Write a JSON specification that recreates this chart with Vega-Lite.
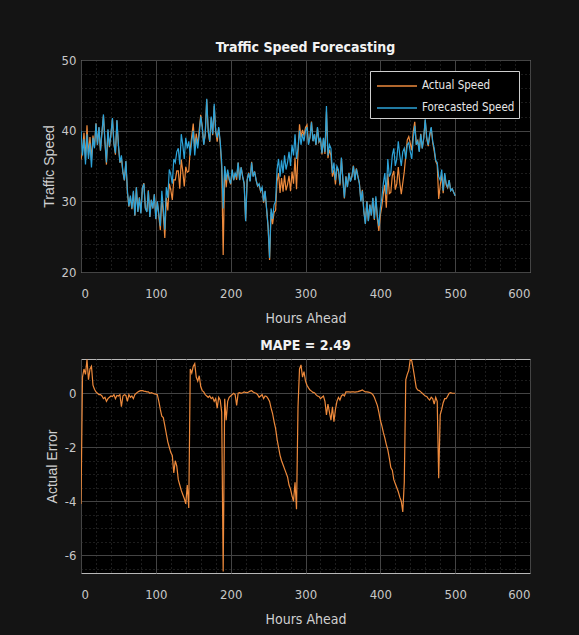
{
  "$schema": "https://vega.github.io/schema/vega-lite/v6.json",
  "background": "#141414",
  "padding": {"left": 41, "top": 40, "right": 48, "bottom": 10},
  "config": {
    "view": {"stroke": "#b8b8b8", "strokeWidth": 1, "fill": "#000000"},
    "font": "DejaVu Sans Condensed, Liberation Sans",
    "axis": {"domain": false, "ticks": false, "labelColor": "#c8c8c8", "labelFontSize": 13, "labelFont": "DejaVu Sans Condensed, Liberation Sans", "titleColor": "#d0d0d0", "titleFontWeight": "normal", "titleFontSize": 14, "titleFont": "DejaVu Sans Condensed, Liberation Sans", "gridColor": "#444444", "gridWidth": 1},
    "title": {"color": "#f2f2f2", "fontSize": 14, "fontWeight": "bold", "font": "DejaVu Sans Condensed, Liberation Sans"},
    "concat": {"spacing": 12}
  },
  "data": {"values": [
    {"hour":0,"actual":35.9,"forecast":40.0,"error":-4.1},
    {"hour":2,"actual":37.1,"forecast":36.5,"error":0.6},
    {"hour":4,"actual":39.7,"forecast":38.8,"error":0.9},
    {"hour":6,"actual":35.9,"forecast":35.2,"error":0.7},
    {"hour":8,"actual":40.75,"forecast":39.5,"error":1.25},
    {"hour":10,"actual":36.5,"forecast":36.0,"error":0.5},
    {"hour":12,"actual":39.1,"forecast":38.2,"error":0.9},
    {"hour":14,"actual":35.8,"forecast":34.8,"error":1.0},
    {"hour":16,"actual":39.3,"forecast":39.0,"error":0.3},
    {"hour":18,"actual":37.65,"forecast":37.5,"error":0.15},
    {"hour":20,"actual":41.05,"forecast":41.0,"error":0.05},
    {"hour":22,"actual":38.0,"forecast":38.0,"error":0.0},
    {"hour":24,"actual":40.45,"forecast":40.5,"error":-0.05},
    {"hour":26,"actual":37.15,"forecast":37.2,"error":-0.05},
    {"hour":28,"actual":39.7,"forecast":39.8,"error":-0.1},
    {"hour":30,"actual":42.1,"forecast":42.3,"error":-0.2},
    {"hour":32,"actual":38.35,"forecast":38.5,"error":-0.15},
    {"hour":34,"actual":35.2,"forecast":35.5,"error":-0.3},
    {"hour":36,"actual":40.0,"forecast":40.2,"error":-0.2},
    {"hour":38,"actual":37.65,"forecast":37.8,"error":-0.15},
    {"hour":40,"actual":39.4,"forecast":39.5,"error":-0.1},
    {"hour":42,"actual":41.68,"forecast":41.8,"error":-0.12},
    {"hour":44,"actual":38.15,"forecast":38.2,"error":-0.05},
    {"hour":46,"actual":36.6,"forecast":36.8,"error":-0.2},
    {"hour":48,"actual":41.42,"forecast":41.5,"error":-0.08},
    {"hour":50,"actual":37.9,"forecast":38.0,"error":-0.1},
    {"hour":52,"actual":35.45,"forecast":35.5,"error":-0.05},
    {"hour":54,"actual":36.0,"forecast":36.5,"error":-0.5},
    {"hour":56,"actual":34.1,"forecast":34.2,"error":-0.1},
    {"hour":58,"actual":32.95,"forecast":33.0,"error":-0.05},
    {"hour":60,"actual":35.62,"forecast":35.7,"error":-0.08},
    {"hour":62,"actual":31.2,"forecast":31.5,"error":-0.3},
    {"hour":64,"actual":29.25,"forecast":29.3,"error":-0.05},
    {"hour":66,"actual":30.65,"forecast":30.8,"error":-0.15},
    {"hour":68,"actual":28.9,"forecast":29.0,"error":-0.1},
    {"hour":70,"actual":31.3,"forecast":31.5,"error":-0.2},
    {"hour":72,"actual":27.95,"forecast":28.0,"error":-0.05},
    {"hour":74,"actual":32.0,"forecast":32.0,"error":0.0},
    {"hour":76,"actual":28.55,"forecast":28.5,"error":0.05},
    {"hour":78,"actual":30.58,"forecast":30.5,"error":0.08},
    {"hour":80,"actual":28.4,"forecast":28.3,"error":0.1},
    {"hour":82,"actual":31.9,"forecast":31.8,"error":0.1},
    {"hour":84,"actual":32.58,"forecast":32.5,"error":0.08},
    {"hour":86,"actual":29.07,"forecast":29.0,"error":0.07},
    {"hour":88,"actual":28.55,"forecast":28.5,"error":0.05},
    {"hour":90,"actual":31.55,"forecast":31.5,"error":0.05},
    {"hour":92,"actual":27.8,"forecast":27.8,"error":0.0},
    {"hour":94,"actual":30.22,"forecast":30.2,"error":0.02},
    {"hour":96,"actual":29.0,"forecast":29.0,"error":0.0},
    {"hour":98,"actual":30.98,"forecast":31.0,"error":-0.02},
    {"hour":100,"actual":27.47,"forecast":27.5,"error":-0.03},
    {"hour":102,"actual":29.95,"forecast":30.0,"error":-0.05},
    {"hour":104,"actual":27.9,"forecast":28.2,"error":-0.3},
    {"hour":106,"actual":25.9,"forecast":26.5,"error":-0.6},
    {"hour":108,"actual":30.65,"forecast":31.5,"error":-0.85},
    {"hour":110,"actual":28.1,"forecast":29.0,"error":-0.9},
    {"hour":112,"actual":24.8,"forecast":26.0,"error":-1.2},
    {"hour":114,"actual":30.5,"forecast":32.0,"error":-1.5},
    {"hour":116,"actual":28.7,"forecast":30.5,"error":-1.8},
    {"hour":118,"actual":32.5,"forecast":34.5,"error":-2.0},
    {"hour":120,"actual":31.6,"forecast":33.8,"error":-2.2},
    {"hour":122,"actual":30.2,"forecast":32.5,"error":-2.3},
    {"hour":124,"actual":33.05,"forecast":36.0,"error":-2.95},
    {"hour":126,"actual":33.0,"forecast":35.5,"error":-2.5},
    {"hour":128,"actual":34.3,"forecast":37.0,"error":-2.7},
    {"hour":130,"actual":34.3,"forecast":37.5,"error":-3.2},
    {"hour":132,"actual":31.8,"forecast":35.2,"error":-3.4},
    {"hour":134,"actual":35.9,"forecast":39.5,"error":-3.6},
    {"hour":136,"actual":34.25,"forecast":38.0,"error":-3.75},
    {"hour":138,"actual":32.1,"forecast":36.0,"error":-3.9},
    {"hour":140,"actual":34.9,"forecast":39.0,"error":-4.1},
    {"hour":142,"actual":34.1,"forecast":37.5,"error":-3.4},
    {"hour":144,"actual":34.25,"forecast":38.5,"error":-4.25},
    {"hour":146,"actual":37.4,"forecast":36.5,"error":0.9},
    {"hour":148,"actual":39.25,"forecast":38.5,"error":0.75},
    {"hour":150,"actual":41.0,"forecast":40.0,"error":1.0},
    {"hour":152,"actual":37.6,"forecast":36.5,"error":1.1},
    {"hour":154,"actual":39.6,"forecast":39.0,"error":0.6},
    {"hour":156,"actual":37.95,"forecast":37.5,"error":0.45},
    {"hour":158,"actual":40.15,"forecast":39.5,"error":0.65},
    {"hour":160,"actual":42.25,"forecast":42.0,"error":0.25},
    {"hour":162,"actual":40.6,"forecast":40.5,"error":0.1},
    {"hour":164,"actual":38.05,"forecast":38.0,"error":0.05},
    {"hour":166,"actual":39.45,"forecast":39.5,"error":-0.05},
    {"hour":168,"actual":44.4,"forecast":44.5,"error":-0.1},
    {"hour":170,"actual":39.85,"forecast":40.0,"error":-0.15},
    {"hour":172,"actual":38.4,"forecast":38.5,"error":-0.1},
    {"hour":174,"actual":41.8,"forecast":42.0,"error":-0.2},
    {"hour":176,"actual":39.35,"forecast":39.5,"error":-0.15},
    {"hour":178,"actual":43.5,"forecast":43.8,"error":-0.3},
    {"hour":180,"actual":39.8,"forecast":40.0,"error":-0.2},
    {"hour":182,"actual":38.45,"forecast":39.0,"error":-0.55},
    {"hour":184,"actual":40.35,"forecast":40.5,"error":-0.15},
    {"hour":186,"actual":38.25,"forecast":38.5,"error":-0.25},
    {"hour":188,"actual":34.8,"forecast":35.5,"error":-0.7},
    {"hour":190,"actual":22.4,"forecast":29.0,"error":-6.6},
    {"hour":192,"actual":34.8,"forecast":35.0,"error":-0.2},
    {"hour":194,"actual":32.0,"forecast":33.0,"error":-1.0},
    {"hour":196,"actual":34.2,"forecast":34.5,"error":-0.3},
    {"hour":198,"actual":33.05,"forecast":33.2,"error":-0.15},
    {"hour":200,"actual":32.4,"forecast":32.5,"error":-0.1},
    {"hour":202,"actual":34.45,"forecast":34.5,"error":-0.05},
    {"hour":204,"actual":33.0,"forecast":33.0,"error":0.0},
    {"hour":206,"actual":33.95,"forecast":34.0,"error":-0.05},
    {"hour":208,"actual":33.05,"forecast":33.5,"error":-0.45},
    {"hour":210,"actual":35.5,"forecast":35.5,"error":0.0},
    {"hour":212,"actual":33.02,"forecast":33.0,"error":0.02},
    {"hour":214,"actual":34.8,"forecast":34.8,"error":0.0},
    {"hour":216,"actual":33.52,"forecast":33.5,"error":0.02},
    {"hour":218,"actual":32.55,"forecast":32.5,"error":0.05},
    {"hour":220,"actual":27.23,"forecast":27.2,"error":0.03},
    {"hour":222,"actual":33.02,"forecast":33.0,"error":0.02},
    {"hour":224,"actual":34.05,"forecast":34.0,"error":0.05},
    {"hour":226,"actual":32.88,"forecast":32.8,"error":0.08},
    {"hour":228,"actual":35.6,"forecast":35.5,"error":0.1},
    {"hour":230,"actual":33.55,"forecast":33.5,"error":0.05},
    {"hour":232,"actual":34.22,"forecast":34.2,"error":0.02},
    {"hour":234,"actual":33.0,"forecast":33.0,"error":0.0},
    {"hour":236,"actual":32.15,"forecast":32.2,"error":-0.05},
    {"hour":238,"actual":32.35,"forecast":32.5,"error":-0.15},
    {"hour":240,"actual":31.4,"forecast":31.5,"error":-0.1},
    {"hour":242,"actual":31.95,"forecast":32.0,"error":-0.05},
    {"hour":244,"actual":29.8,"forecast":30.0,"error":-0.2},
    {"hour":246,"actual":31.4,"forecast":31.5,"error":-0.1},
    {"hour":248,"actual":28.88,"forecast":29.0,"error":-0.12},
    {"hour":250,"actual":26.3,"forecast":26.5,"error":-0.2},
    {"hour":252,"actual":21.7,"forecast":22.0,"error":-0.3},
    {"hour":254,"actual":28.45,"forecast":29.0,"error":-0.55},
    {"hour":256,"actual":26.75,"forecast":27.5,"error":-0.75},
    {"hour":258,"actual":28.45,"forecast":29.5,"error":-1.05},
    {"hour":260,"actual":28.7,"forecast":30.0,"error":-1.3},
    {"hour":262,"actual":32.8,"forecast":34.5,"error":-1.7},
    {"hour":264,"actual":34.0,"forecast":36.0,"error":-2.0},
    {"hour":266,"actual":31.2,"forecast":33.5,"error":-2.3},
    {"hour":268,"actual":33.3,"forecast":35.8,"error":-2.5},
    {"hour":270,"actual":31.35,"forecast":34.0,"error":-2.65},
    {"hour":272,"actual":33.7,"forecast":36.5,"error":-2.8},
    {"hour":274,"actual":31.55,"forecast":34.5,"error":-2.95},
    {"hour":276,"actual":32.4,"forecast":35.5,"error":-3.1},
    {"hour":278,"actual":33.6,"forecast":37.0,"error":-3.4},
    {"hour":280,"actual":31.45,"forecast":35.0,"error":-3.55},
    {"hour":282,"actual":34.2,"forecast":38.0,"error":-3.8},
    {"hour":284,"actual":32.5,"forecast":36.5,"error":-4.0},
    {"hour":286,"actual":36.2,"forecast":39.5,"error":-3.3},
    {"hour":288,"actual":31.7,"forecast":36.0,"error":-4.3},
    {"hour":290,"actual":37.0,"forecast":37.5,"error":-0.5},
    {"hour":292,"actual":40.9,"forecast":40.0,"error":0.9},
    {"hour":294,"actual":39.05,"forecast":38.0,"error":1.05},
    {"hour":296,"actual":40.1,"forecast":39.5,"error":0.6},
    {"hour":298,"actual":39.3,"forecast":38.5,"error":0.8},
    {"hour":300,"actual":40.45,"forecast":40.0,"error":0.45},
    {"hour":302,"actual":40.8,"forecast":40.5,"error":0.3},
    {"hour":304,"actual":38.2,"forecast":38.0,"error":0.2},
    {"hour":306,"actual":39.12,"forecast":39.0,"error":0.12},
    {"hour":308,"actual":41.28,"forecast":41.2,"error":0.08},
    {"hour":310,"actual":38.53,"forecast":38.5,"error":0.03},
    {"hour":312,"actual":39.52,"forecast":39.5,"error":0.02},
    {"hour":314,"actual":37.95,"forecast":38.0,"error":-0.05},
    {"hour":316,"actual":40.4,"forecast":40.5,"error":-0.1},
    {"hour":318,"actual":38.38,"forecast":38.5,"error":-0.12},
    {"hour":320,"actual":38.8,"forecast":39.0,"error":-0.2},
    {"hour":322,"actual":36.65,"forecast":36.8,"error":-0.15},
    {"hour":324,"actual":38.9,"forecast":39.0,"error":-0.1},
    {"hour":326,"actual":36.7,"forecast":37.0,"error":-0.3},
    {"hour":328,"actual":42.7,"forecast":43.5,"error":-0.8},
    {"hour":330,"actual":36.1,"forecast":36.5,"error":-0.4},
    {"hour":332,"actual":37.3,"forecast":38.0,"error":-0.7},
    {"hour":334,"actual":36.5,"forecast":37.5,"error":-1.0},
    {"hour":336,"actual":33.5,"forecast":34.0,"error":-0.5},
    {"hour":338,"actual":34.45,"forecast":35.5,"error":-1.05},
    {"hour":340,"actual":32.4,"forecast":33.0,"error":-0.6},
    {"hour":342,"actual":34.7,"forecast":35.0,"error":-0.3},
    {"hour":344,"actual":34.35,"forecast":34.5,"error":-0.15},
    {"hour":346,"actual":32.25,"forecast":32.5,"error":-0.25},
    {"hour":348,"actual":36.1,"forecast":36.2,"error":-0.1},
    {"hour":350,"actual":32.95,"forecast":33.0,"error":-0.05},
    {"hour":352,"actual":30.4,"forecast":30.5,"error":-0.1},
    {"hour":354,"actual":33.55,"forecast":33.5,"error":0.05},
    {"hour":356,"actual":32.05,"forecast":32.0,"error":0.05},
    {"hour":358,"actual":34.05,"forecast":34.0,"error":0.05},
    {"hour":360,"actual":32.84,"forecast":32.8,"error":0.04},
    {"hour":362,"actual":33.55,"forecast":33.5,"error":0.05},
    {"hour":364,"actual":35.05,"forecast":35.0,"error":0.05},
    {"hour":366,"actual":33.04,"forecast":33.0,"error":0.04},
    {"hour":368,"actual":34.65,"forecast":34.6,"error":0.05},
    {"hour":370,"actual":33.56,"forecast":33.5,"error":0.06},
    {"hour":372,"actual":32.58,"forecast":32.5,"error":0.08},
    {"hour":374,"actual":30.1,"forecast":30.0,"error":0.1},
    {"hour":376,"actual":31.62,"forecast":31.5,"error":0.12},
    {"hour":378,"actual":28.58,"forecast":28.5,"error":0.08},
    {"hour":380,"actual":26.85,"forecast":26.8,"error":0.05},
    {"hour":382,"actual":30.05,"forecast":30.0,"error":0.05},
    {"hour":384,"actual":27.24,"forecast":27.2,"error":0.04},
    {"hour":386,"actual":29.53,"forecast":29.5,"error":0.03},
    {"hour":388,"actual":28.0,"forecast":28.0,"error":0.0},
    {"hour":390,"actual":30.45,"forecast":30.5,"error":-0.05},
    {"hour":392,"actual":27.35,"forecast":27.5,"error":-0.15},
    {"hour":394,"actual":30.4,"forecast":30.7,"error":-0.3},
    {"hour":396,"actual":27.55,"forecast":28.0,"error":-0.45},
    {"hour":398,"actual":25.8,"forecast":26.5,"error":-0.7},
    {"hour":400,"actual":28.0,"forecast":29.0,"error":-1.0},
    {"hour":402,"actual":29.3,"forecast":30.5,"error":-1.2},
    {"hour":404,"actual":31.05,"forecast":32.5,"error":-1.45},
    {"hour":406,"actual":32.35,"forecast":34.0,"error":-1.65},
    {"hour":408,"actual":29.1,"forecast":31.0,"error":-1.9},
    {"hour":410,"actual":33.9,"forecast":36.0,"error":-2.1},
    {"hour":412,"actual":31.1,"forecast":33.5,"error":-2.4},
    {"hour":414,"actual":31.25,"forecast":34.0,"error":-2.75},
    {"hour":416,"actual":33.65,"forecast":36.5,"error":-2.85},
    {"hour":418,"actual":34.3,"forecast":37.5,"error":-3.2},
    {"hour":420,"actual":31.65,"forecast":35.0,"error":-3.35},
    {"hour":422,"actual":32.5,"forecast":36.0,"error":-3.5},
    {"hour":424,"actual":34.85,"forecast":38.5,"error":-3.65},
    {"hour":426,"actual":32.65,"forecast":36.5,"error":-3.85},
    {"hour":428,"actual":31.0,"forecast":35.0,"error":-4.0},
    {"hour":430,"actual":32.6,"forecast":37.0,"error":-4.4},
    {"hour":432,"actual":34.2,"forecast":37.5,"error":-3.3},
    {"hour":434,"actual":36.5,"forecast":36.0,"error":0.5},
    {"hour":436,"actual":38.7,"forecast":38.0,"error":0.7},
    {"hour":438,"actual":39.15,"forecast":38.3,"error":0.85},
    {"hour":440,"actual":38.25,"forecast":37.0,"error":1.25},
    {"hour":442,"actual":37.2,"forecast":36.0,"error":1.2},
    {"hour":444,"actual":39.9,"forecast":39.0,"error":0.9},
    {"hour":446,"actual":41.25,"forecast":40.7,"error":0.55},
    {"hour":448,"actual":38.2,"forecast":38.0,"error":0.2},
    {"hour":450,"actual":38.62,"forecast":38.5,"error":0.12},
    {"hour":452,"actual":37.1,"forecast":37.0,"error":0.1},
    {"hour":454,"actual":39.55,"forecast":39.5,"error":0.05},
    {"hour":456,"actual":37.5,"forecast":37.5,"error":0.0},
    {"hour":458,"actual":38.95,"forecast":39.0,"error":-0.05},
    {"hour":460,"actual":41.5,"forecast":41.6,"error":-0.1},
    {"hour":462,"actual":38.88,"forecast":39.0,"error":-0.12},
    {"hour":464,"actual":37.8,"forecast":38.0,"error":-0.2},
    {"hour":466,"actual":39.25,"forecast":39.5,"error":-0.25},
    {"hour":468,"actual":40.35,"forecast":40.5,"error":-0.15},
    {"hour":470,"actual":38.3,"forecast":38.5,"error":-0.2},
    {"hour":472,"actual":37.1,"forecast":37.5,"error":-0.4},
    {"hour":474,"actual":35.65,"forecast":35.8,"error":-0.15},
    {"hour":476,"actual":35.2,"forecast":35.5,"error":-0.3},
    {"hour":478,"actual":30.35,"forecast":33.5,"error":-3.15},
    {"hour":480,"actual":32.2,"forecast":33.0,"error":-0.8},
    {"hour":482,"actual":33.9,"forecast":34.5,"error":-0.6},
    {"hour":484,"actual":31.15,"forecast":31.5,"error":-0.35},
    {"hour":486,"actual":33.8,"forecast":34.0,"error":-0.2},
    {"hour":488,"actual":32.3,"forecast":32.5,"error":-0.2},
    {"hour":490,"actual":31.9,"forecast":32.0,"error":-0.1},
    {"hour":492,"actual":33.0,"forecast":33.0,"error":0.0},
    {"hour":494,"actual":31.52,"forecast":31.5,"error":0.02},
    {"hour":496,"actual":31.8,"forecast":31.8,"error":0.0},
    {"hour":498,"actual":31.3,"forecast":31.3,"error":0.0},
    {"hour":500,"actual":30.8,"forecast":30.8,"error":0.0}
  ]},
  "vconcat": [
    {
      "width": 449,
      "height": 212,
      "title": {"text": "Traffic Speed Forecasting", "offset": -1},
      "layer": [
        {
          "mark": {"type": "line", "opacity": 0},
          "encoding": {
            "x": {"field": "hour", "type": "quantitative", "scale": {"domain": [0, 600], "nice": false}, "axis": {"orient": "bottom", "values": [20,40,60,80,120,140,160,180,220,240,260,280,320,340,360,380,420,440,460,480,520,540,560,580], "grid": true, "gridDash": [1, 3], "gridColor": "#3a3a3a", "labels": false, "title": null}},
            "y": {"field": "actual", "type": "quantitative", "scale": {"domain": [20, 50], "nice": false, "zero": false}, "axis": {"orient": "left", "values": [22,24,26,28,32,34,36,38,42,44,46,48], "grid": true, "gridDash": [1, 3], "gridColor": "#3a3a3a", "labels": false, "title": null}}
          }
        },
        {
          "transform": [{"fold": ["actual", "forecast"], "as": ["series", "speed"]}],
          "mark": {"type": "line", "strokeWidth": 1.2, "clip": true},
          "encoding": {
            "x": {"field": "hour", "type": "quantitative", "scale": {"domain": [0, 600], "nice": false}, "axis": {"orient": "bottom", "values": [0,100,200,300,400,500,600], "grid": true, "title": "Hours Ahead", "labelPadding": 15, "titlePadding": 11}},
            "y": {"field": "speed", "type": "quantitative", "scale": {"domain": [20, 50], "nice": false, "zero": false}, "axis": {"orient": "left", "values": [20,30,40,50], "grid": true, "title": "Traffic Speed", "titleFont": "Liberation Sans", "titleFontSize": 14, "labelPadding": 5, "titlePadding": 5}},
            "color": {
              "field": "series", "type": "nominal",
              "scale": {"domain": ["actual", "forecast"], "range": ["#EE8A3C", "#2DA3D9"]},
              "legend": {"title": null, "orient": "top-right", "offset": 11, "fillColor": "#000000", "strokeColor": "#cfcfcf", "padding": 4, "symbolType": "M-2,0H2", "symbolSize": 400, "symbolStrokeWidth": 1.5, "symbolOffset": 12, "labelOffset": 14, "labelColor": "#e6e6e6", "labelFontSize": 11.5, "labelFont": "DejaVu Sans Condensed, Liberation Sans", "rowPadding": 5, "labelExpr": "datum.label == 'actual' ? 'Actual Speed' : 'Forecasted Speed'"}
            }
          }
        }
      ],
      "resolve": {"axis": {"x": "independent", "y": "independent"}}
    },
    {
      "width": 449,
      "height": 214,
      "title": {"text": "MAPE = 2.49", "offset": 6},
      "layer": [
        {
          "mark": {"type": "line", "opacity": 0},
          "encoding": {
            "x": {"field": "hour", "type": "quantitative", "scale": {"domain": [0, 600], "nice": false}, "axis": {"orient": "bottom", "values": [20,40,60,80,120,140,160,180,220,240,260,280,320,340,360,380,420,440,460,480,520,540,560,580], "grid": true, "gridDash": [1, 3], "gridColor": "#3a3a3a", "labels": false, "title": null}},
            "y": {"field": "error", "type": "quantitative", "scale": {"domain": [-6.66, 1.27], "nice": false, "zero": false}, "axis": {"orient": "left", "values": [1, 0.5, -0.5, -1, -1.5, -2.5, -3, -3.5, -4.5, -5, -5.5, -6.5], "grid": true, "gridDash": [1, 3], "gridColor": "#3a3a3a", "labels": false, "title": null}}
          }
        },
        {
          "mark": {"type": "line", "strokeWidth": 1.2, "color": "#EE8A3C", "clip": true},
          "encoding": {
            "x": {"field": "hour", "type": "quantitative", "scale": {"domain": [0, 600], "nice": false}, "axis": {"orient": "bottom", "values": [0,100,200,300,400,500,600], "grid": true, "title": "Hours Ahead", "labelPadding": 15, "titlePadding": 11}},
            "y": {"field": "error", "type": "quantitative", "scale": {"domain": [-6.66, 1.27], "nice": false, "zero": false}, "axis": {"orient": "left", "values": [-6, -4, -2, 0], "grid": true, "title": "Actual Error", "titleFont": "Liberation Sans", "titleFontSize": 14, "labelPadding": 5, "titlePadding": 5, "labelExpr": "toString(datum.value)"}}
          }
        }
      ],
      "resolve": {"axis": {"x": "independent", "y": "independent"}}
    }
  ]
}
